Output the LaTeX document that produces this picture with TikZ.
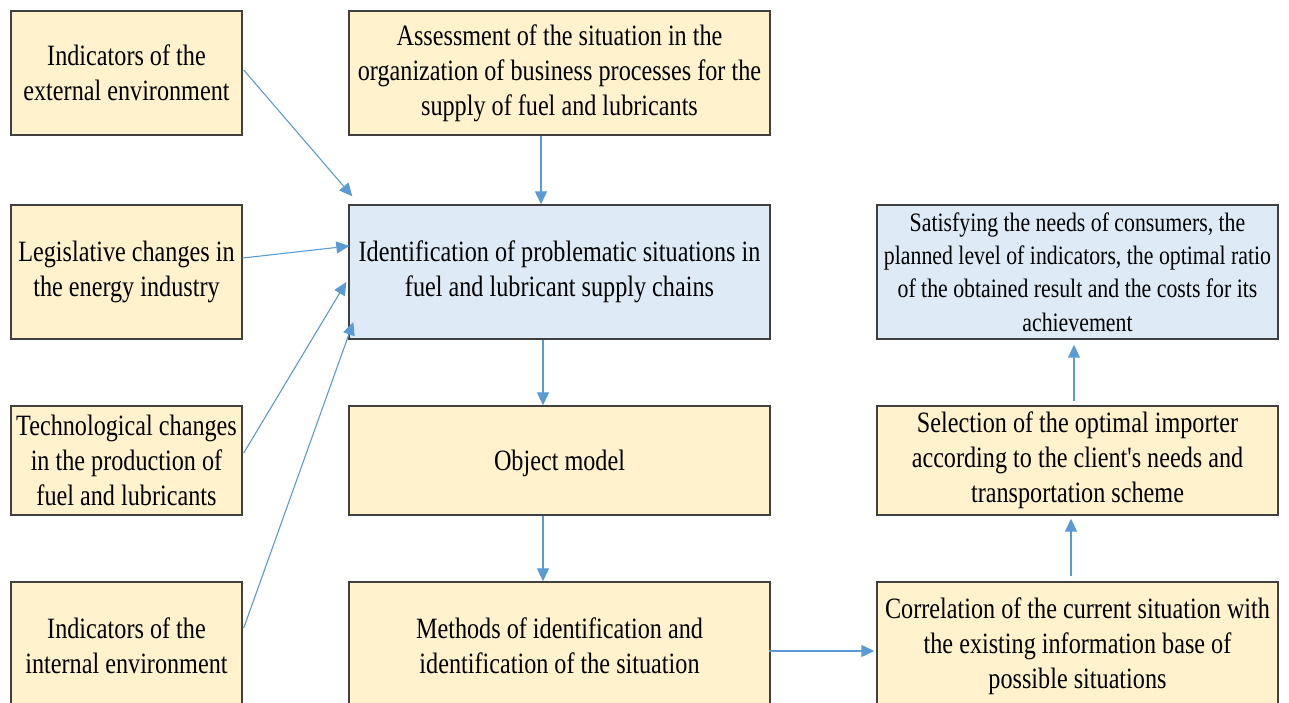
\documentclass[tikz,border=0pt]{standalone}
\usepackage{fontspec}
\setmainfont[FakeStretch=0.82,Ligatures=TeXOff]{Liberation Serif}
\usetikzlibrary{arrows.meta}
\definecolor{boxyellow}{HTML}{FFF2CC}
\definecolor{boxblue}{HTML}{DEEBF7}
\definecolor{boxline}{HTML}{404040}
\definecolor{arrowblue}{HTML}{5B9BD5}
\begin{document}
\begin{tikzpicture}[x=1pt,y=-1pt,
  box/.style={draw=boxline,line width=1.4pt,fill=boxyellow,inner sep=0pt,align=center,
    font=\fontsize{29.5}{35}\selectfont},
  bluebox/.style={box,fill=boxblue},
  conn/.style={draw=arrowblue,line width=1.1pt,-{Triangle[length=13pt,width=12pt]}}
]
\useasboundingbox (0,0) rectangle (1289,702);
% left column
\node[box,minimum width=231pt,minimum height=124pt] (L1) at (126.5,73) {Indicators of the\\external environment};
\node[box,minimum width=231pt,minimum height=134pt] (L2) at (126.5,272) {Legislative changes in\\the energy industry};
\node[box,minimum width=231pt,minimum height=109pt] (L3) at (126.5,460.5) {Technological changes\\in the production of\\fuel and lubricants};
\node[box,minimum width=231pt,minimum height=128pt] (L4) at (126.5,646) {Indicators of the\\internal environment};
% middle column
\node[box,minimum width=421pt,minimum height=124pt] (M1) at (559.5,73) {Assessment of the situation in the\\organization of business processes for the\\supply of fuel and lubricants};
\node[bluebox,minimum width=421pt,minimum height=134pt] (M2) at (559.5,272) {Identification of problematic situations in\\fuel and lubricant supply chains};
\node[box,minimum width=421pt,minimum height=109pt,text depth=0pt] (M3) at (559.5,460.5) {Object model};
\node[box,minimum width=421pt,minimum height=128pt] (M4) at (559.5,646) {Methods of identification and\\identification of the situation};
% right column
\node[bluebox,minimum width=401pt,minimum height=134pt,font=\fontsize{26.6}{33.3}\selectfont] (R2) at (1077.5,272) {Satisfying the needs of consumers, the\\planned level of indicators, the optimal ratio\\of the obtained result and the costs for its\\achievement};
\node[box,minimum width=401pt,minimum height=109pt] (R3) at (1077.5,460.5) {Selection of the optimal importer\\according to the client's needs and\\transportation scheme};
\node[box,minimum width=401pt,minimum height=128pt] (R4) at (1077.5,646) {Correlation of the current situation with\\the existing information base of\\possible situations};
% connectors
\draw[conn] ([shift={(1,-3)}]L1.east) -- ([shift={(4,-8)}]M2.north west);
\draw[conn] ([shift={(0,-14)}]L2.east) -- ([shift={(1,-26)}]M2.west);
\draw[conn] ([shift={(1,-7.5)}]L3.east) -- ([shift={(-2,10)}]M2.west);
\draw[conn] ([shift={(1,-18)}]L4.east) -- ([shift={(5,50)}]M2.west);
\draw[conn] ([xshift=-18.5]M1.south) -- ([xshift=-18.5]M2.north);
\draw[conn] ([xshift=-16.5]M2.south) -- ([xshift=-16.5]M3.north);
\draw[conn] ([xshift=-16.5]M3.south) -- ([xshift=-16.5]M4.north);
\draw[conn] ([shift={(-2,5)}]M4.east) -- ([shift={(-2,5)}]R4.west);
\draw[conn] ([shift={(-6.5,-5)}]R4.north) -- ([shift={(-6.5,3)}]R3.south);
\draw[conn] ([shift={(-3.5,-4)}]R3.north) -- ([shift={(-3.5,5)}]R2.south);
\end{tikzpicture}
\end{document}
